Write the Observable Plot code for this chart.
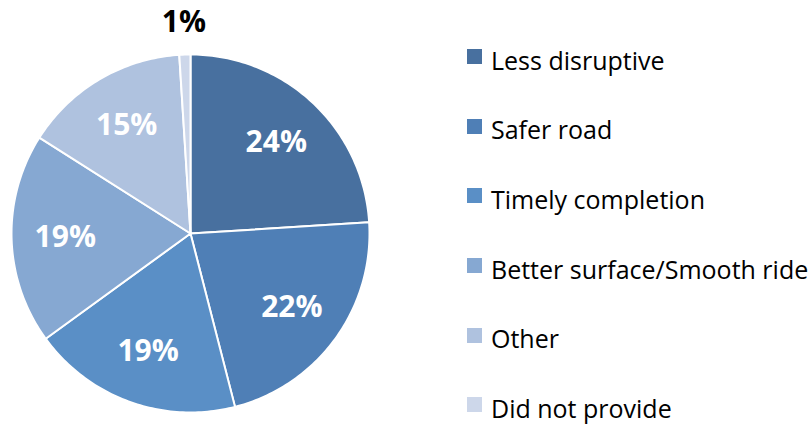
<!DOCTYPE html>
<html>
<head>
<meta charset="utf-8">
<script src="https://cdn.jsdelivr.net/npm/d3@7"></script>
<script src="https://cdn.jsdelivr.net/npm/@observablehq/plot@0.6"></script>
<style>
  html, body { margin: 0; padding: 0; background: #fff; }
  #wrap { position: relative; width: 812px; height: 426px; font-family: "Open Sans", sans-serif; }
  #legend { position: absolute; left: 467px; top: 25px; }
  .item { height: 69.6px; display: flex; align-items: center; font-size: 25px; color: #000; white-space: nowrap; }
  .sw { width: 15px; height: 15px; margin-right: 9px; margin-top: -6px; flex: none; }
</style>
</head>
<body>
<div id="wrap"></div>
<script>
const categories = ["Less disruptive", "Safer road", "Timely completion", "Better surface/Smooth ride", "Other", "Did not provide"];
const values = [24, 22, 19, 19, 15, 1];
const colors = ["#48709F", "#4F7FB6", "#5A8FC6", "#86A8D2", "#AFC2DF", "#CDD7EA"];

const data = categories.map((c, i) => ({label: c, value: values[i]}));
const arcs = d3.pie().sort(null).value(d => d.value)(data);

// outline points of each slice (center + arc), generated from pie angles
const pts = [];
for (const a of arcs) {
  pts.push({label: a.data.label, x: 0, y: 0});
  const n = Math.max(2, Math.ceil((a.endAngle - a.startAngle) / (Math.PI / 180)));
  for (let k = 0; k <= n; k++) {
    const t = a.startAngle + (a.endAngle - a.startAngle) * k / n;
    pts.push({label: a.data.label, x: Math.sin(t), y: Math.cos(t)});
  }
}
const labels = arcs.map(a => {
  const m = (a.startAngle + a.endAngle) / 2;
  const outside = a.data.value < 5;
  const r = outside ? 1.18 : 0.7;
  return {text: a.data.value + "%", x: r * Math.sin(m), y: r * Math.cos(m), outside};
});

const plot = Plot.plot({
  width: 440,
  height: 426,
  margin: 0,
  x: {domain: [-1, 1], range: [11, 369], axis: null},
  y: {domain: [-1, 1], range: [412, 54], axis: null},
  color: {domain: categories, range: colors},
  marks: [
    Plot.line(pts, {x: "x", y: "y", z: "label", fill: "label", stroke: "white", strokeWidth: 2, curve: "linear-closed"}),
    Plot.text(labels, {x: "x", y: "y", text: "text", fill: d => d.outside ? "black" : "white", fontSize: 30, fontWeight: "bold", fontFamily: "Open Sans"})
  ]
});
plot.style.position = "absolute";
plot.style.left = "0px";
plot.style.top = "0px";
const wrap = document.getElementById("wrap");
wrap.appendChild(plot);

const color = plot.scale("color");
const legend = document.createElement("div");
legend.id = "legend";
for (const c of categories) {
  const item = document.createElement("div");
  item.className = "item";
  const sw = document.createElement("div");
  sw.className = "sw";
  sw.style.background = color.apply(c);
  const tx = document.createElement("span");
  tx.textContent = c;
  item.appendChild(sw);
  item.appendChild(tx);
  legend.appendChild(item);
}
wrap.appendChild(legend);
</script>
</body>
</html>
